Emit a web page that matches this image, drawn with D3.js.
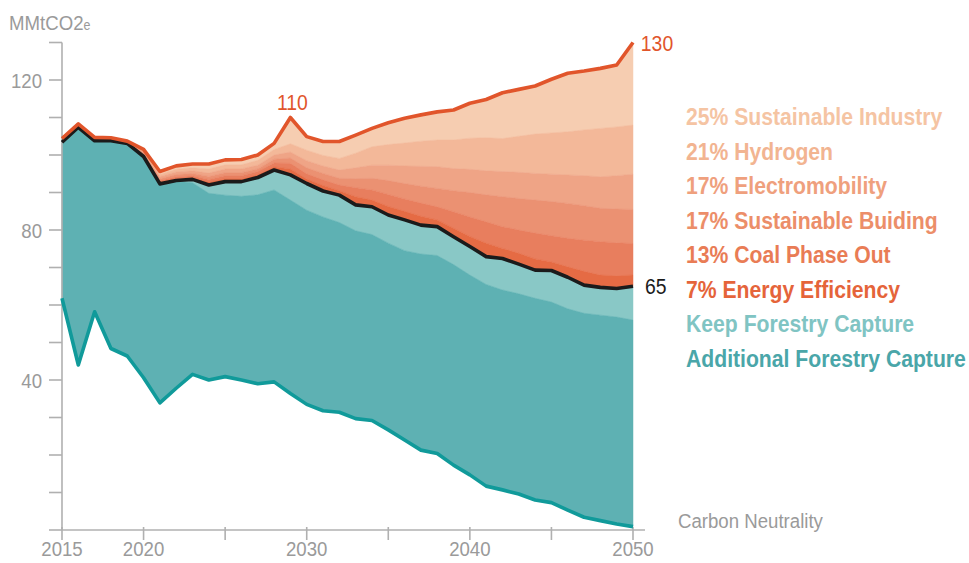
<!DOCTYPE html>
<html>
<head>
<meta charset="utf-8">
<script src="https://cdn.jsdelivr.net/npm/d3@7"></script>
<style>
  html, body { margin: 0; padding: 0; background: #fff; }
  svg { display: block; }
</style>
</head>
<body>
<svg id="chart" width="969" height="563"></svg>
<script>
// Emission pathways, MMtCO2e per year
const years = d3.range(2015, 2051);

// Business-as-usual emissions (top line)
const bau = [104.4,108.3,104.7,104.6,103.7,101.5,95.6,97.1,97.6,97.6,98.7,98.8,100.0,103.1,110,104.9,103.6,103.6,105.3,107.1,108.6,109.8,110.7,111.5,112.0,113.8,114.8,116.6,117.5,118.4,120.2,121.8,122.4,123.1,124.0,130];
// Emissions remaining after each measure is applied in turn
const afterIndustry = [104.2,108.1,104.5,104.4,103.6,101.1,94.9,96.2,96.6,96.3,97.4,97.4,98.6,101.5,103.0,101.3,99.9,99.1,100.5,102.2,102.8,103.2,103.7,104.0,104.0,104.5,104.6,104.4,105.0,105.6,105.9,106.2,106.7,107.1,107.5,108.0];
const afterHydrogen = [104.0,108.0,104.4,104.3,103.5,100.8,94.3,95.5,95.8,95.2,96.3,96.3,97.3,100.0,100.8,98.5,97.1,96.0,96.6,97.3,97.3,97.1,97.0,96.9,96.4,96.2,95.8,95.6,95.4,95.1,94.9,94.7,94.5,94.2,94.5,94.9];
const afterElectromobility = [103.9,107.8,104.2,104.2,103.4,100.5,93.7,94.8,95.1,94.3,95.3,95.3,96.3,98.9,99.2,96.6,95.1,93.8,93.7,93.8,93.2,92.4,91.7,91.1,90.5,90.0,89.4,88.9,88.4,88.0,87.6,87.1,86.5,85.8,85.6,85.5];
const afterBuilding = [103.8,107.7,104.1,104.0,103.3,100.2,93.2,94.2,94.5,93.5,94.5,94.5,95.6,97.9,97.8,95.0,93.4,92.0,91.3,90.7,89.5,88.3,87.2,86.2,84.9,83.5,82.2,80.9,80.0,79.2,78.5,77.8,77.3,76.9,76.6,76.4];
const afterCoal = [103.6,107.5,103.9,103.9,103.2,99.9,92.7,93.7,94.0,92.8,93.7,93.7,94.8,96.9,96.3,93.6,91.9,90.5,88.9,88.0,86.3,85.0,83.7,82.7,80.5,78.3,76.5,75.1,73.8,72.3,71.5,70.2,69.0,68.0,67.8,68.0];
const afterEfficiency = [103.4,107.4,103.8,103.8,103.1,99.6,92.3,93.2,93.5,92.0,92.9,92.9,94.0,96.0,94.7,92.4,90.4,89.3,86.7,86.2,84.0,82.7,81.3,80.9,78.2,75.6,72.9,72.4,70.9,69.3,69.2,67.4,65.3,64.7,64.4,65];
// Net emissions once forestry capture is counted
const afterKeepForestry = [103.4,107.4,103.8,103.8,103.1,99.6,92.3,93.0,92.6,89.8,89.3,89.0,89.4,90.7,88.0,85.3,83.5,82.0,79.8,78.8,76.5,74.5,73.6,73.2,70.8,68.0,65.5,64.0,63.0,61.8,60.8,59.0,57.8,57.3,56.8,56.0];
const afterAdditionalForestry = [61.8,44.0,58.2,48.4,46.4,40.6,33.9,37.8,41.5,40.0,40.9,40.0,39.0,39.5,36.4,33.5,31.8,31.4,29.7,29.2,26.7,24.0,21.3,20.4,17.3,14.7,11.7,10.7,9.6,8.0,7.3,5.3,3.4,2.5,1.6,0.9];

const legendLabels = [
  "25% Sustainable Industry",
  "21% Hydrogen",
  "17% Electromobility",
  "17% Sustainable Buiding",
  "13% Coal Phase Out",
  "7% Energy Efficiency",
  "Keep Forestry Capture",
  "Additional Forestry Capture"
];
const yTickLabels = [40, 80, 120];
const xTickLabels = [2015, 2020, 2030, 2040, 2050];
const unitLabel = "MMtCO2";
const unitSub = "e";
const endLabel = "Carbon Neutrality";

// Bands, top to bottom: [upper edge, lower edge]
const bands = [
  { upper: bau, lower: afterIndustry, fill: "#f6cdb1", text: "#f5c4a3" },
  { upper: afterIndustry, lower: afterHydrogen, fill: "#f3b899", text: "#f2b491" },
  { upper: afterHydrogen, lower: afterElectromobility, fill: "#efa486", text: "#efa07d" },
  { upper: afterElectromobility, lower: afterBuilding, fill: "#eb9172", text: "#ec8e69" },
  { upper: afterBuilding, lower: afterCoal, fill: "#e87e5e", text: "#e97c55" },
  { upper: afterCoal, lower: afterEfficiency, fill: "#e56b44", text: "#e5643a" },
  { upper: afterEfficiency, lower: afterKeepForestry, fill: "#89c8c6", text: "#80c4c3" },
  { upper: afterKeepForestry, lower: afterAdditionalForestry, fill: "#5eb1b3", text: "#4aa6a9" }
];

const FONT = "'Liberation Sans', Arial, Helvetica, sans-serif";
const AXIS_GREY = "#b0b0b0";
const TEXT_GREY = "#9a9a9a";

const svg = d3.select("#chart");
const x = d3.scaleLinear().domain([2015, 2050]).range([62, 633]);
const y = d3.scaleLinear().domain([0, 130]).range([530, 42.5]);

// Horizontal compression that gives the type a condensed look
function measure(str, size, weight) {
  const t = svg.append("text").attr("font-family", FONT).attr("font-size", size)
    .attr("font-weight", weight).text(str);
  const w = t.node().getComputedTextLength();
  t.remove();
  return w;
}
function condense(sel, k) {
  sel.each(function () {
    const t = d3.select(this);
    const x0 = +t.attr("x"), y0 = +t.attr("y");
    t.attr("x", 0).attr("y", 0)
      .attr("transform", `translate(${x0},${y0}) scale(${k},1)`);
  });
}
const kGrey = 145 / measure(endLabel, 21, "normal");
const kLegend = 280 / measure(legendLabels[7], 23, "bold");

// Stacked bands
const gBands = svg.append("g");
bands.forEach(b => {
  const area = d3.area()
    .x((d, i) => x(years[i]))
    .y0((d, i) => y(b.lower[i]))
    .y1((d, i) => y(b.upper[i]));
  gBands.append("path")
    .datum(years)
    .attr("d", area)
    .attr("fill", b.fill)
    .attr("stroke", b.fill)
    .attr("stroke-width", 0.5);
});

// Axes
const gAxis = svg.append("g").attr("stroke", AXIS_GREY).attr("stroke-width", 1.6);
gAxis.append("line")
  .attr("x1", x(2015)).attr("x2", x(2015))
  .attr("y1", y(130)).attr("y2", y(0));
gAxis.append("line")
  .attr("x1", x(2015)).attr("x2", x(2050) + 12)
  .attr("y1", y(0)).attr("y2", y(0));
d3.range(0, 131, 10).forEach(v => {
  gAxis.append("line")
    .attr("x1", x(2015) - 13).attr("x2", x(2015))
    .attr("y1", y(v)).attr("y2", y(v));
});
d3.range(2015, 2051, 5).forEach(yr => {
  gAxis.append("line")
    .attr("x1", x(yr)).attr("x2", x(yr))
    .attr("y1", y(0) - 3).attr("y2", y(0) + 10);
});

svg.append("g").selectAll("text")
  .data(yTickLabels).join("text")
  .attr("x", x(2015) - 20)
  .attr("y", d => y(d) + 7.5)
  .attr("text-anchor", "end")
  .attr("font-family", FONT)
  .attr("font-size", 21)
  .attr("fill", TEXT_GREY)
  .text(d => d)
  .call(condense, kGrey);

svg.append("g").selectAll("text")
  .data(xTickLabels).join("text")
  .attr("x", d => x(d))
  .attr("y", 556)
  .attr("text-anchor", "middle")
  .attr("font-family", FONT)
  .attr("font-size", 21)
  .attr("fill", TEXT_GREY)
  .text(d => d)
  .call(condense, kGrey);

const unit = svg.append("text")
  .attr("x", 9).attr("y", 30)
  .attr("font-family", FONT)
  .attr("font-size", 21)
  .attr("fill", TEXT_GREY);
unit.append("tspan").text(unitLabel);
unit.append("tspan").attr("font-size", 14).text(unitSub);
unit.call(condense, kGrey);

svg.append("text")
  .attr("x", 678).attr("y", 528)
  .attr("font-family", FONT)
  .attr("font-size", 21)
  .attr("fill", TEXT_GREY)
  .text(endLabel)
  .call(condense, kGrey);

// Pathway lines
const line = arr => d3.line().x((d, i) => x(years[i])).y((d, i) => y(arr[i]))(years);
svg.append("path").attr("d", line(afterAdditionalForestry))
  .attr("fill", "none").attr("stroke", "#109a9a").attr("stroke-width", 3.6)
  .attr("stroke-linejoin", "round");
svg.append("path").attr("d", line(afterEfficiency))
  .attr("fill", "none").attr("stroke", "#1b1b1b").attr("stroke-width", 3.6)
  .attr("stroke-linejoin", "round");
svg.append("path").attr("d", line(bau))
  .attr("fill", "none").attr("stroke", "#e1552b").attr("stroke-width", 3.6)
  .attr("stroke-linejoin", "round");

// Value annotations
const iPeak = years.indexOf(2029);
const iEnd = years.length - 1;
svg.append("text")
  .attr("x", x(2029) + 2).attr("y", y(bau[iPeak]) - 8)
  .attr("text-anchor", "middle")
  .attr("font-family", FONT).attr("font-size", 22)
  .attr("fill", "#e1552b")
  .text(bau[iPeak])
  .call(condense, 0.88);
svg.append("text")
  .attr("x", x(2050) + 24).attr("y", y(bau[iEnd]) + 8)
  .attr("text-anchor", "middle")
  .attr("font-family", FONT).attr("font-size", 22)
  .attr("fill", "#e1552b")
  .text(bau[iEnd])
  .call(condense, 0.88);
svg.append("text")
  .attr("x", x(2050) + 12).attr("y", y(afterEfficiency[iEnd]) + 8)
  .attr("font-family", FONT).attr("font-size", 22)
  .attr("fill", "#1b1b1b")
  .text(afterEfficiency[iEnd])
  .call(condense, 0.88);

// Legend
svg.append("g").selectAll("text")
  .data(legendLabels).join("text")
  .attr("x", 686)
  .attr("y", (d, i) => 125 + i * 34.5)
  .attr("font-family", FONT)
  .attr("font-weight", "bold")
  .attr("font-size", 23)
  .attr("fill", (d, i) => bands[i].text)
  .text(d => d)
  .call(condense, kLegend);
</script>
</body>
</html>
